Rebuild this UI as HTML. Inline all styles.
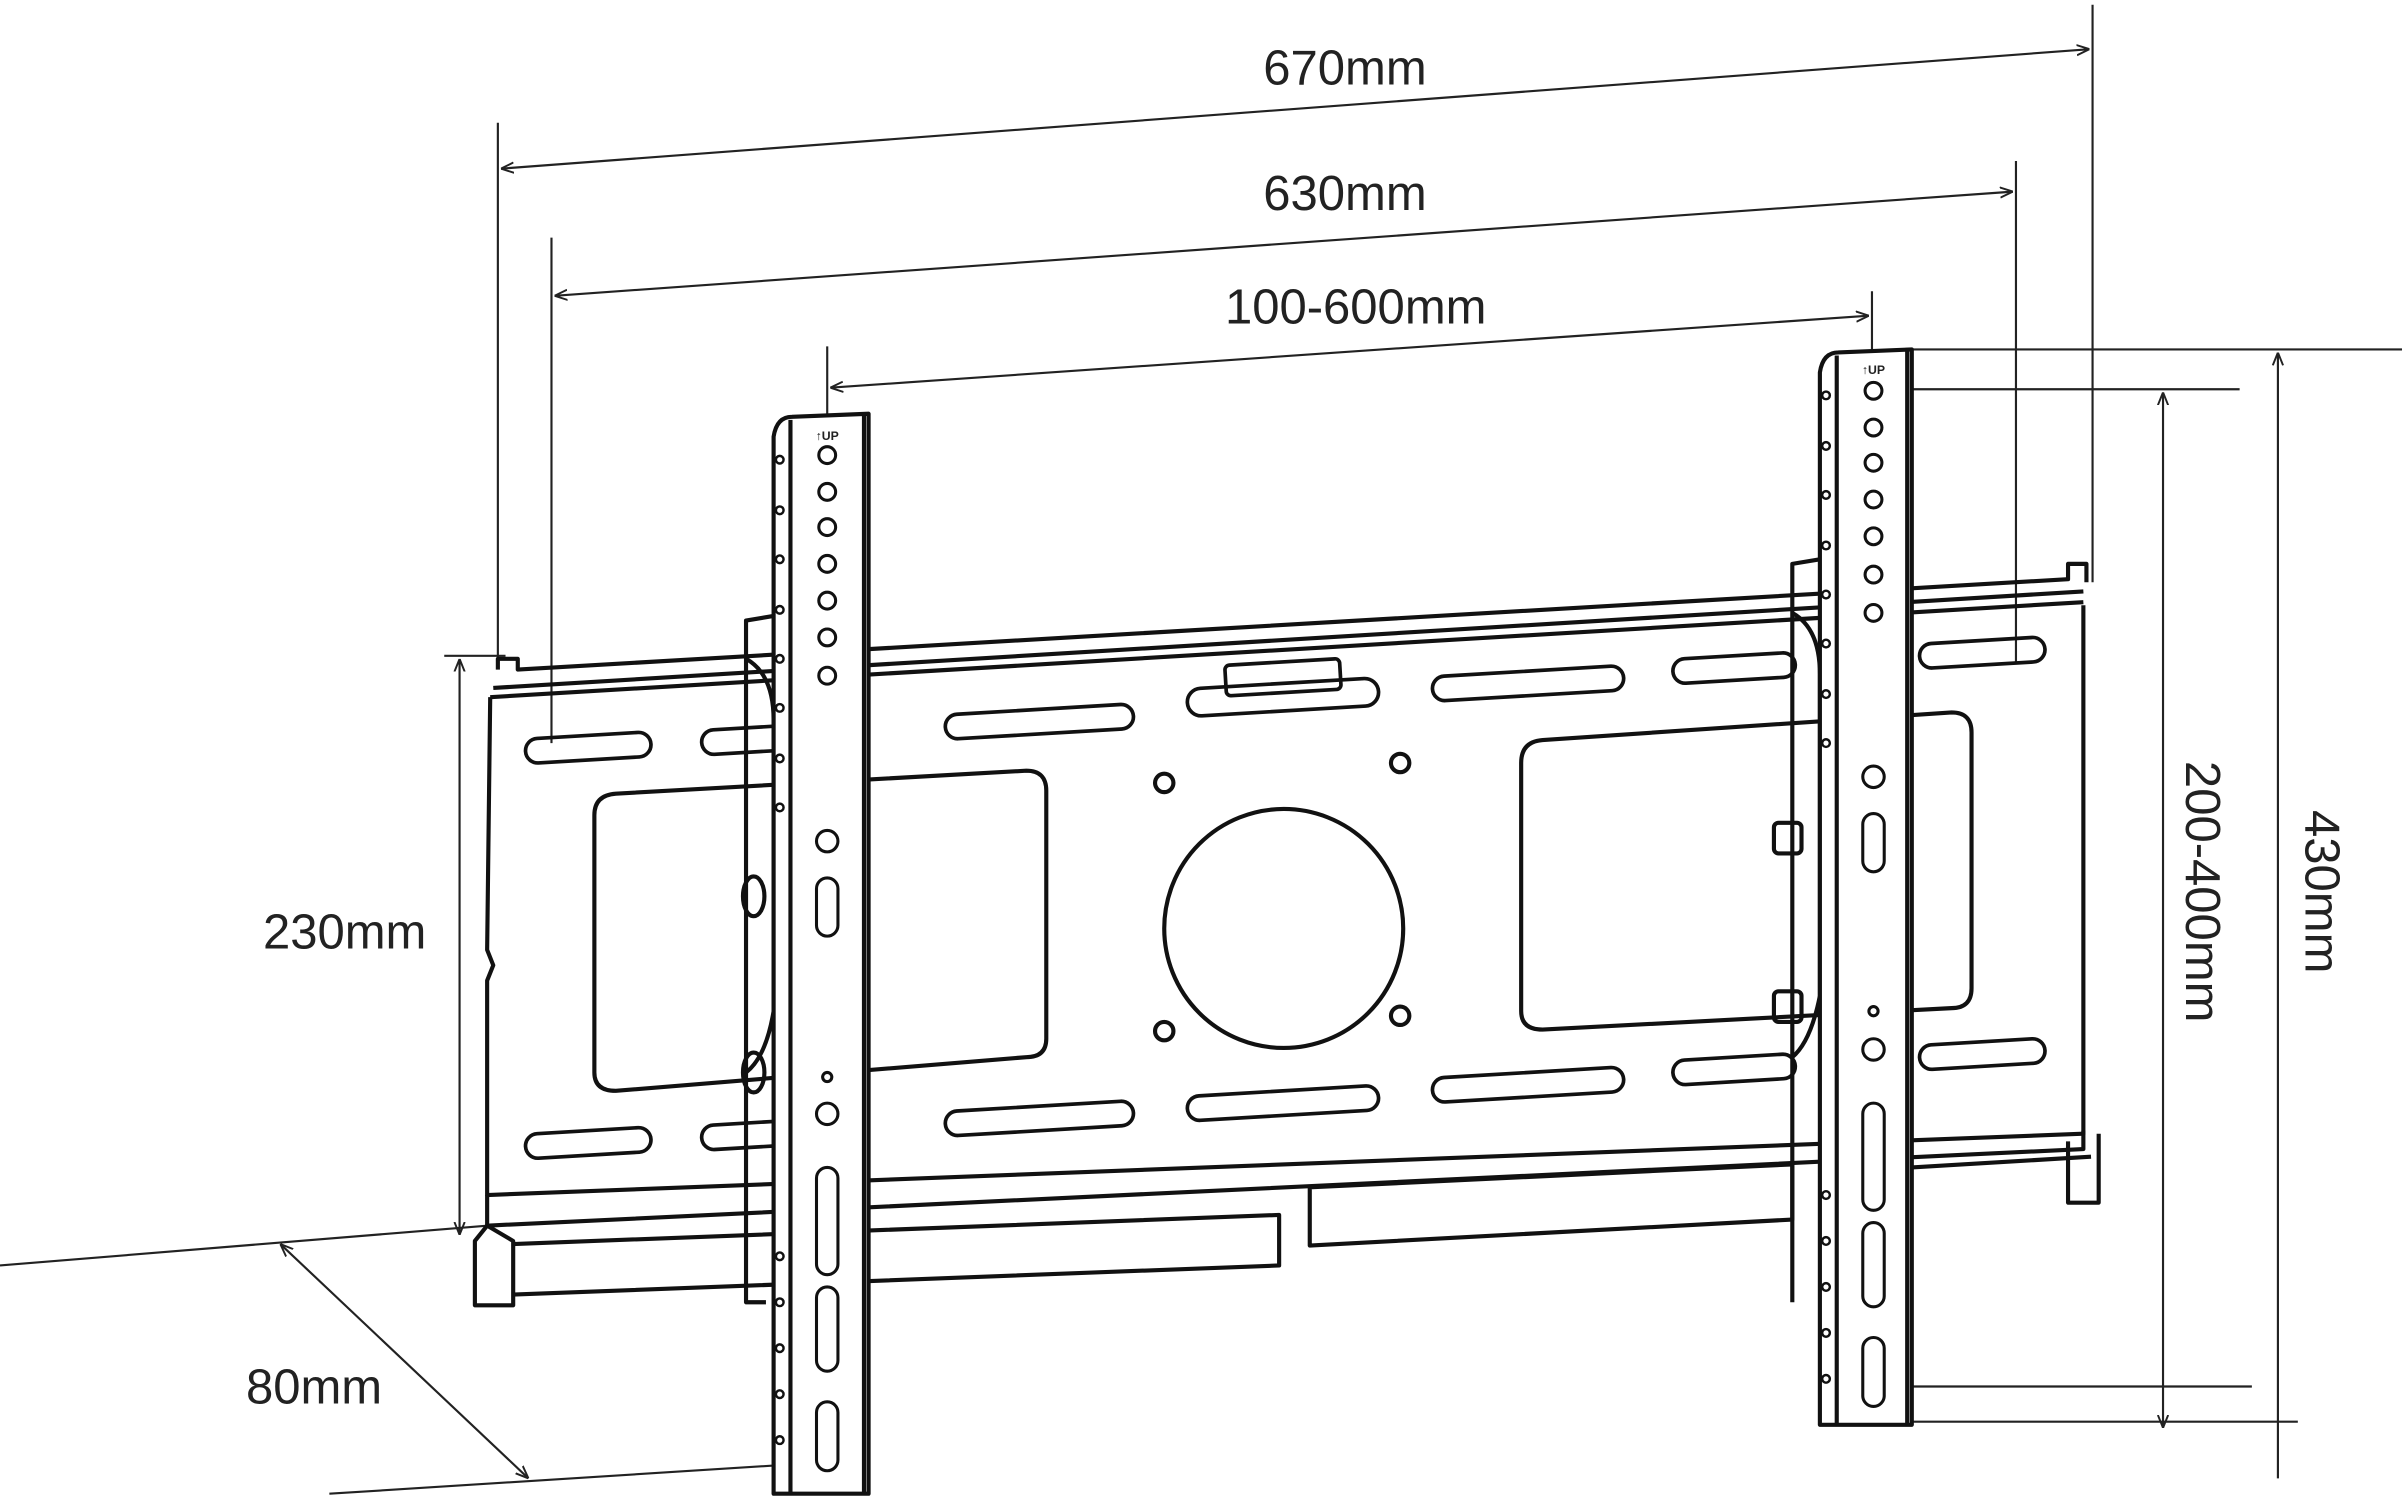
<!DOCTYPE html>
<html><head><meta charset="utf-8"><style>
html,body{margin:0;padding:0;background:#fff;}
svg{display:block}
text{font-family:"Liberation Sans",sans-serif;fill:#222;}
</style></head><body>
<svg width="2402" height="1500" viewBox="0 0 1568 979" xmlns="http://www.w3.org/2000/svg">
<defs><marker id="a" viewBox="0 0 10 10" refX="10" refY="5" markerWidth="6" markerHeight="6" orient="auto-start-reverse"><path d="M0,1 L10,5 L0,9" fill="none" stroke="#222" stroke-width="1.5"/></marker></defs>
<g stroke="#222" stroke-width="1.4" fill="none">
<line x1="325" y1="80" x2="325" y2="432"/>
<line x1="1366" y1="3" x2="1366" y2="380"/>
<line x1="360" y1="155" x2="360" y2="485"/>
<line x1="1316" y1="105" x2="1316" y2="432"/>
<line x1="540" y1="226" x2="540" y2="290"/>
<line x1="1222" y1="190" x2="1222" y2="250"/>
<line x1="327" y1="110" x2="1364" y2="32" marker-start="url(#a)" marker-end="url(#a)"/>
<line x1="362" y1="193" x2="1314" y2="125" marker-start="url(#a)" marker-end="url(#a)"/>
<line x1="542" y1="253" x2="1220" y2="206" marker-start="url(#a)" marker-end="url(#a)"/>
<line x1="300" y1="430" x2="300" y2="806" marker-start="url(#a)" marker-end="url(#a)"/>
<line x1="290" y1="428" x2="330" y2="428"/>
<line x1="1248" y1="228" x2="1568" y2="228"/>
<line x1="1230" y1="254" x2="1462" y2="254"/>
<line x1="1228" y1="905" x2="1470" y2="905"/>
<line x1="1248" y1="928" x2="1500" y2="928"/>
<line x1="1487" y1="230" x2="1487" y2="965" marker-start="url(#a)"/>
<line x1="1412" y1="256" x2="1412" y2="932" marker-start="url(#a)" marker-end="url(#a)"/>
<line x1="0" y1="826" x2="318" y2="800"/>
<line x1="215" y1="975" x2="530" y2="955"/>
<line x1="183" y1="812" x2="345" y2="965" marker-start="url(#a)" marker-end="url(#a)"/>
</g>
<g stroke="#111" stroke-width="2.7" fill="none" stroke-linejoin="round">
<path d="M325,437 L325,430 L338,430 L338,437 L1350,378 L1350,368 L1362,368 L1362,380"/>
<line x1="320" y1="455" x2="1360" y2="393"/>
<line x1="322" y1="449" x2="1360" y2="386"/>
<path d="M320,455 L318,620 L322,630 L318,640 L318,780 L1360,740 L1360,395"/>
<path d="M318,780 L318,800 L1360,750 L1360,738"/>
<path d="M318,800 L310,810 L310,852 L335,852 L335,810 L318,800"/>
<path d="M335,812 L835,793 L835,826 L335,845"/>
<path d="M855,775 L1170,760 L1170,796 L855,813 Z"/>
<path d="M1350,745 L1350,785 L1370,785 L1370,740"/>
<path d="M1248,762 L1365,755"/>
<g stroke-width="2.4">
<rect x="343" y="480" width="82" height="16" rx="8" transform="rotate(-3.4 384 488)"/>
<rect x="458" y="475" width="60" height="16" rx="8" transform="rotate(-3.4 488 483)"/>
<rect x="617" y="463" width="123" height="16" rx="8" transform="rotate(-3.4 678 471)"/>
<rect x="775" y="446" width="125" height="18" rx="9" transform="rotate(-3.4 838 455)"/>
<rect x="800" y="432" width="75" height="20" rx="3" transform="rotate(-3.4 838 442)"/>
<rect x="935" y="438" width="125" height="16" rx="8" transform="rotate(-3.4 998 446)"/>
<rect x="1092" y="428" width="80" height="16" rx="8" transform="rotate(-3.4 1132 436)"/>
<rect x="1253" y="418" width="82" height="16" rx="8" transform="rotate(-3.4 1294 426)"/>
<rect x="343" y="738" width="82" height="16" rx="8" transform="rotate(-3.4 384 746)"/>
<rect x="458" y="733" width="60" height="16" rx="8" transform="rotate(-3.4 488 741)"/>
<rect x="617" y="722" width="123" height="16" rx="8" transform="rotate(-3.4 678 730)"/>
<rect x="775" y="712" width="125" height="16" rx="8" transform="rotate(-3.4 838 720)"/>
<rect x="935" y="700" width="125" height="16" rx="8" transform="rotate(-3.4 998 708)"/>
<rect x="1092" y="690" width="80" height="16" rx="8" transform="rotate(-3.4 1132 698)"/>
<rect x="1253" y="680" width="82" height="16" rx="8" transform="rotate(-3.4 1294 688)"/>
</g>
<path d="M402,518 L670,503 Q683,503 683,516 L683,678 Q683,690 670,690 L402,712 Q388,712 388,700 L388,532 Q388,519 402,518 Z"/>
<path d="M1007,483 L1274,465 Q1287,465 1287,478 L1287,645 Q1287,658 1274,658 L1007,672 Q993,672 993,660 L993,498 Q993,484 1007,483 Z"/>
<circle cx="838" cy="606" r="78"/>
<circle cx="760" cy="511" r="6"/><circle cx="914" cy="498" r="6"/>
<circle cx="760" cy="673" r="6"/><circle cx="914" cy="663" r="6"/>
<path d="M500,850 L487,850 L487,405 L505,402"/>
<path d="M487,430 Q505,440 505,470 L505,660 Q500,690 487,700"/>
<ellipse cx="492" cy="585" rx="7" ry="13"/><ellipse cx="492" cy="700" rx="7" ry="13"/>
<path d="M505,975 L505,285 Q507,272 517,272 L567,270 L567,975 Z" fill="#fff"/>
<line x1="516" y1="274" x2="516" y2="975"/>
<line x1="564" y1="271" x2="564" y2="975"/>
<g stroke-width="2">
<circle cx="540" cy="297" r="5.5"/><circle cx="540" cy="321" r="5.5"/><circle cx="540" cy="344" r="5.5"/>
<circle cx="540" cy="368" r="5.5"/><circle cx="540" cy="392" r="5.5"/><circle cx="540" cy="416" r="5.5"/><circle cx="540" cy="441" r="5.5"/>
<circle cx="540" cy="549" r="7"/><circle cx="540" cy="727" r="7"/><circle cx="540" cy="703" r="3"/>
<rect x="533" y="573" width="14" height="38" rx="7"/>
<rect x="533" y="762" width="14" height="70" rx="7"/>
<rect x="533" y="840" width="14" height="55" rx="7"/>
<rect x="533" y="915" width="14" height="45" rx="7"/>
</g>
<g stroke-width="1.6"><circle cx="509" cy="300" r="2.5"/><circle cx="509" cy="333" r="2.5"/><circle cx="509" cy="365" r="2.5"/><circle cx="509" cy="398" r="2.5"/><circle cx="509" cy="430" r="2.5"/><circle cx="509" cy="462" r="2.5"/><circle cx="509" cy="495" r="2.5"/><circle cx="509" cy="527" r="2.5"/><circle cx="509" cy="820" r="2.5"/><circle cx="509" cy="850" r="2.5"/><circle cx="509" cy="880" r="2.5"/><circle cx="509" cy="910" r="2.5"/><circle cx="509" cy="940" r="2.5"/></g>
<path d="M1170,850 L1170,368 L1188,365"/>
<path d="M1170,400 Q1188,410 1188,440 L1188,650 Q1182,680 1170,690"/>
<rect x="1158" y="537" width="18" height="20" rx="3"/><rect x="1158" y="647" width="18" height="20" rx="3"/>
<path d="M1188,930 L1188,243 Q1190,230 1200,230 L1248,228 L1248,930 Z" fill="#fff"/>
<line x1="1199" y1="232" x2="1199" y2="930"/>
<line x1="1245" y1="229" x2="1245" y2="930"/>
<g stroke-width="2">
<circle cx="1223" cy="255" r="5.5"/><circle cx="1223" cy="279" r="5.5"/><circle cx="1223" cy="302" r="5.5"/>
<circle cx="1223" cy="326" r="5.5"/><circle cx="1223" cy="350" r="5.5"/><circle cx="1223" cy="375" r="5.5"/><circle cx="1223" cy="400" r="5.5"/>
<circle cx="1223" cy="507" r="7"/><circle cx="1223" cy="685" r="7"/><circle cx="1223" cy="660" r="3"/>
<rect x="1216" y="531" width="14" height="38" rx="7"/>
<rect x="1216" y="720" width="14" height="70" rx="7"/>
<rect x="1216" y="798" width="14" height="55" rx="7"/>
<rect x="1216" y="873" width="14" height="45" rx="7"/>
</g>
<g stroke-width="1.6"><circle cx="1192" cy="258" r="2.5"/><circle cx="1192" cy="291" r="2.5"/><circle cx="1192" cy="323" r="2.5"/><circle cx="1192" cy="356" r="2.5"/><circle cx="1192" cy="388" r="2.5"/><circle cx="1192" cy="420" r="2.5"/><circle cx="1192" cy="453" r="2.5"/><circle cx="1192" cy="485" r="2.5"/><circle cx="1192" cy="780" r="2.5"/><circle cx="1192" cy="810" r="2.5"/><circle cx="1192" cy="840" r="2.5"/><circle cx="1192" cy="870" r="2.5"/><circle cx="1192" cy="900" r="2.5"/></g>
</g>
<text x="540" y="287" font-size="8" font-weight="bold" text-anchor="middle">↑UP</text>
<text x="1223" y="244" font-size="8" font-weight="bold" text-anchor="middle">↑UP</text>
<g font-size="32">
<text x="878" y="55" text-anchor="middle">670mm</text>
<text x="878" y="137" text-anchor="middle">630mm</text>
<text x="885" y="211" text-anchor="middle">100-600mm</text>
<text x="225" y="619" text-anchor="middle">230mm</text>
<text x="205" y="916" text-anchor="middle">80mm</text>
<text transform="translate(1505,582) rotate(90)" text-anchor="middle">430mm</text>
<text transform="translate(1427,582) rotate(90)" text-anchor="middle">200-400mm</text>
</g>
</svg>
</body></html>
